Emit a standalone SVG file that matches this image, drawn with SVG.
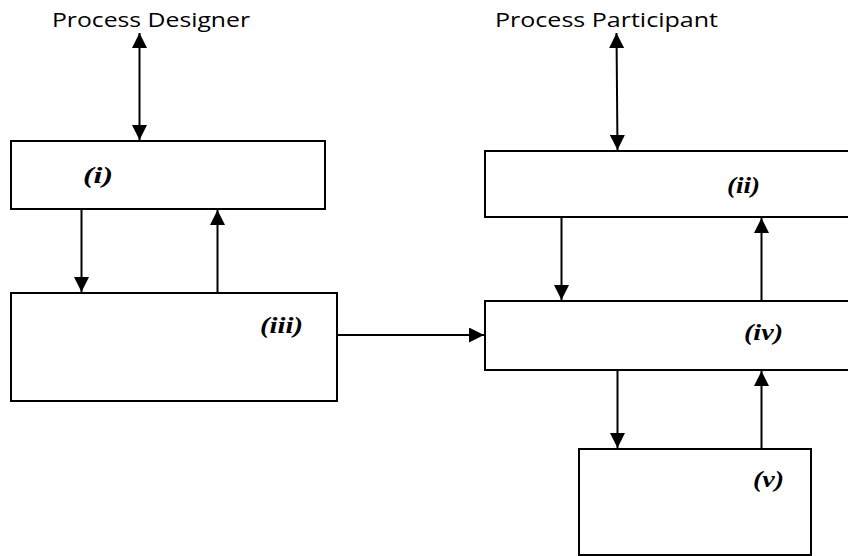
<svg xmlns="http://www.w3.org/2000/svg" width="848" height="556" viewBox="0 0 848 556">
<style>
.box{fill:#fff;stroke:#000;stroke-width:2}
.ln{stroke:#000;stroke-width:2;fill:none}
.actor{font-family:"Open Sans","Noto Sans",sans-serif;font-size:20px;fill:#000}
.lbl{font-family:"Liberation Serif",serif;font-size:23px;font-weight:bold;font-style:italic;fill:#000}
</style>
<defs>
<marker id="ah" viewBox="0 0 10 10" refX="10" refY="5" markerWidth="7.5" markerHeight="7.5" markerUnits="strokeWidth" orient="auto-start-reverse">
<path d="M0,0 L10,5 L0,10 Z" fill="#000"/>
</marker>
</defs>
<rect width="848" height="556" fill="#fff"/>
<g id="designer"><text class="actor" x="52" y="27" textLength="198" lengthAdjust="spacingAndGlyphs">Process Designer</text></g>
<g id="participant"><text class="actor" x="495" y="27" textLength="223" lengthAdjust="spacingAndGlyphs">Process Participant</text></g>
<g id="node-i"><rect class="box" x="11" y="141" width="314" height="68"/><text class="lbl" x="83" y="183" textLength="30" lengthAdjust="spacingAndGlyphs">(i)</text></g>
<g id="node-ii"><rect class="box" x="485" y="151" width="380" height="66"/><text class="lbl" x="727" y="193" textLength="33" lengthAdjust="spacingAndGlyphs">(ii)</text></g>
<g id="node-iii"><rect class="box" x="11" y="293" width="326" height="108"/><text class="lbl" x="260" y="333" textLength="43" lengthAdjust="spacingAndGlyphs">(iii)</text></g>
<g id="node-iv"><rect class="box" x="485" y="301" width="380" height="69"/><text class="lbl" x="744" y="340" textLength="39" lengthAdjust="spacingAndGlyphs">(iv)</text></g>
<g id="node-v"><rect class="box" x="579" y="449" width="232" height="106"/><text class="lbl" x="753" y="487" textLength="31" lengthAdjust="spacingAndGlyphs">(v)</text></g>
<g id="connectors">
<line class="ln" x1="139.5" y1="33" x2="139.5" y2="140" marker-start="url(#ah)" marker-end="url(#ah)"/>
<line class="ln" x1="616.5" y1="33" x2="617.5" y2="150" marker-start="url(#ah)" marker-end="url(#ah)"/>
<line class="ln" x1="81.5" y1="209" x2="81.5" y2="292" marker-end="url(#ah)"/>
<line class="ln" x1="217.5" y1="293" x2="217.5" y2="210" marker-end="url(#ah)"/>
<line class="ln" x1="561.5" y1="217" x2="561.5" y2="300" marker-end="url(#ah)"/>
<line class="ln" x1="761.5" y1="301" x2="761.5" y2="218" marker-end="url(#ah)"/>
<line class="ln" x1="337" y1="335" x2="484" y2="335" marker-end="url(#ah)"/>
<line class="ln" x1="617.5" y1="370" x2="617.5" y2="448" marker-end="url(#ah)"/>
<line class="ln" x1="761.5" y1="449" x2="761.5" y2="371" marker-end="url(#ah)"/>
</g>
</svg>
